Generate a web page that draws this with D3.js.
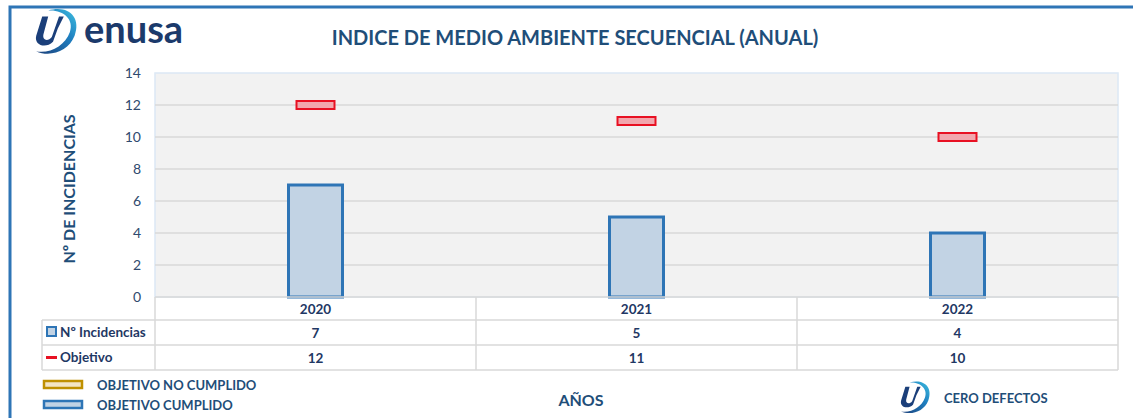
<!DOCTYPE html>
<html>
<head>
<meta charset="utf-8">
<script src="https://cdn.jsdelivr.net/npm/d3@7"></script>
<style>
  body { margin: 0; background: #fff; }
  svg { display: block; font-family: Lato, "Open Sans", sans-serif; }
</style>
</head>
<body>
<div id="chart"></div>
<script>
// chart data
var years = ["2020", "2021", "2022"];
var incidencias = [7, 5, 4];
var objetivo = [12, 11, 10];
var yTicks = [0, 2, 4, 6, 8, 10, 12, 14];

var width = 1133, height = 418;
var navy = "#1f4e79", textDark = "#1f3864", blue = "#2e75b6";

var svg = d3.select("#chart").append("svg")
    .attr("width", width)
    .attr("height", height);

// outer frame (top + left)
svg.append("path")
    .attr("d", "M10," + height + " L10,7 L" + width + ",7")
    .attr("fill", "none")
    .attr("stroke", blue)
    .attr("stroke-width", 3);

// scales
var x = d3.scaleBand().domain(years).range([155, 1118]).padding(0);
var y = d3.scaleLinear().domain([0, 14]).range([297, 73]);

// plot background
svg.append("rect")
    .attr("x", x.range()[0]).attr("y", y(14))
    .attr("width", x.range()[1] - x.range()[0]).attr("height", y(0) - y(14))
    .attr("fill", "#f2f2f2")
    .attr("stroke", "#dce8f5")
    .attr("stroke-width", 1.5);

// gridlines
svg.append("g").selectAll("line")
    .data(yTicks.slice(1, -1))
    .enter().append("line")
    .attr("x1", x.range()[0]).attr("x2", x.range()[1])
    .attr("y1", function(d) { return y(d); })
    .attr("y2", function(d) { return y(d); })
    .attr("stroke", "#d9d9d9")
    .attr("stroke-width", 1.5);

// y axis labels
var yAxis = d3.axisLeft(y).tickValues(yTicks).tickSize(0).tickPadding(14);
var yg = svg.append("g")
    .attr("transform", "translate(155,0)")
    .call(yAxis);
yg.select(".domain").remove();
yg.selectAll("text")
    .attr("font-size", 14)
    .attr("font-family", "Lato, sans-serif")
    .attr("fill", "#2f4a6e");

// bars
var barW = 54;
svg.append("g").selectAll("rect")
    .data(incidencias)
    .enter().append("rect")
    .attr("x", function(d, i) { return x(years[i]) + x.bandwidth() / 2 - barW / 2; })
    .attr("y", function(d) { return y(d); })
    .attr("width", barW)
    .attr("height", function(d) { return y(0) - y(d); })
    .attr("fill", "#c2d3e4")
    .attr("stroke", blue)
    .attr("stroke-width", 3);

// objetivo markers
var markW = 38, markH = 8;
svg.append("g").selectAll("rect")
    .data(objetivo)
    .enter().append("rect")
    .attr("x", function(d, i) { return x(years[i]) + x.bandwidth() / 2 - markW / 2; })
    .attr("y", function(d) { return y(d) - markH / 2; })
    .attr("width", markW)
    .attr("height", markH)
    .attr("fill", "#f2a7ae")
    .attr("stroke", "#e81123")
    .attr("stroke-width", 2);

// data table
var rowTop = [297, 320, 345, 370];
var tableLeft = 42;
var table = svg.append("g");

// horizontal lines
table.selectAll("line.h")
    .data(rowTop)
    .enter().append("line")
    .attr("class", "h")
    .attr("x1", function(d, i) { return i === 0 ? x.range()[0] : tableLeft; })
    .attr("x2", x.range()[1])
    .attr("y1", function(d) { return d; })
    .attr("y2", function(d) { return d; })
    .attr("stroke", "#d9d9d9")
    .attr("stroke-width", 1.5);

// vertical lines
var colEdges = years.map(function(d) { return x(d); }).concat([x.range()[1]]);
table.selectAll("line.v")
    .data(colEdges)
    .enter().append("line")
    .attr("class", "v")
    .attr("x1", function(d) { return d; })
    .attr("x2", function(d) { return d; })
    .attr("y1", rowTop[0])
    .attr("y2", rowTop[3])
    .attr("stroke", "#d9d9d9")
    .attr("stroke-width", 1.5);
table.append("line")
    .attr("x1", tableLeft).attr("x2", tableLeft)
    .attr("y1", rowTop[1]).attr("y2", rowTop[3])
    .attr("stroke", "#d9d9d9").attr("stroke-width", 1.5);

// table text
var rows = [years, incidencias, objetivo];
rows.forEach(function(row, r) {
    table.selectAll("text.r" + r)
        .data(row)
        .enter().append("text")
        .attr("x", function(d, i) { return x(years[i]) + x.bandwidth() / 2; })
        .attr("y", (rowTop[r] + rowTop[r + 1]) / 2 + 5)
        .attr("text-anchor", "middle")
        .attr("font-size", 13.5)
        .attr("font-weight", "bold")
        .attr("fill", textDark)
        .text(function(d) { return d; });
});

// row headers with keys
table.append("rect")
    .attr("x", 47).attr("y", 327).attr("width", 9).attr("height", 9)
    .attr("fill", "#c2d3e4").attr("stroke", blue).attr("stroke-width", 2);
table.append("text")
    .attr("x", 60).attr("y", 337)
    .attr("font-size", 13.5).attr("font-weight", "bold").attr("fill", textDark)
    .text("Nº Incidencias");
table.append("rect")
    .attr("x", 46).attr("y", 356).attr("width", 11).attr("height", 3)
    .attr("fill", "#e81123");
table.append("text")
    .attr("x", 60).attr("y", 362)
    .attr("font-size", 13.5).attr("font-weight", "bold").attr("fill", textDark)
    .text("Objetivo");

// title
svg.append("text")
    .attr("x", 575).attr("y", 45)
    .attr("text-anchor", "middle")
    .attr("font-size", 20).attr("font-weight", "bold").attr("fill", navy)
    .text("INDICE DE MEDIO AMBIENTE SECUENCIAL (ANUAL)");

// y axis title
svg.append("text")
    .attr("transform", "translate(75,189) rotate(-90)")
    .attr("text-anchor", "middle")
    .attr("font-size", 16).attr("font-weight", "bold").attr("fill", navy)
    .text("Nº DE INCIDENCIAS");

// x axis title
svg.append("text")
    .attr("x", 581).attr("y", 406)
    .attr("text-anchor", "middle")
    .attr("font-size", 16).attr("font-weight", "bold").attr("fill", navy)
    .text("AÑOS");

// bottom legend
var legendItems = [
    { label: "OBJETIVO NO CUMPLIDO", fill: "#f3e5c4", stroke: "#bf9000", y: 381 },
    { label: "OBJETIVO CUMPLIDO", fill: "#c2d3e4", stroke: blue, y: 401 }
];
var lg = svg.append("g");
lg.selectAll("rect")
    .data(legendItems)
    .enter().append("rect")
    .attr("x", 44).attr("y", function(d) { return d.y; })
    .attr("width", 38).attr("height", 7)
    .attr("fill", function(d) { return d.fill; })
    .attr("stroke", function(d) { return d.stroke; })
    .attr("stroke-width", 2.5);
lg.selectAll("text")
    .data(legendItems)
    .enter().append("text")
    .attr("x", 97).attr("y", function(d) { return d.y + 9; })
    .attr("font-size", 13).attr("font-weight", "bold").attr("fill", navy)
    .text(function(d) { return d.label; });

// logo mark (swoosh + U)
function drawMark(g, cx, cy, s) {
    var grad = "grad" + Math.round(cx);
    var defs = svg.append("defs");
    var lgd = defs.append("linearGradient").attr("id", grad)
        .attr("x1", "0").attr("y1", "1").attr("x2", "1").attr("y2", "0");
    lgd.append("stop").attr("offset", "0").attr("stop-color", "#1b3f7a");
    lgd.append("stop").attr("offset", "0.6").attr("stop-color", "#1f7fc0");
    lgd.append("stop").attr("offset", "1").attr("stop-color", "#3fc0e0");
    var m = g.append("g").attr("transform", "translate(" + cx + "," + cy + ") scale(" + s + ")");
    m.append("path")
        .attr("d", "M-4,-17 C12,-22 24,-12 18,4 C13,17 -2,22 -14,17 C-2,19 10,12 14,1 C18,-10 8,-18 -4,-17 Z")
        .attr("fill", "url(#" + grad + ")");
    m.append("path")
        .attr("d", "M-9,-12 L-14,4 C-16,12 -6,15 0,9 L4,-2 L9,-12 L5,-12 L-1,5 C-4,9 -9,8 -8,3 L-4,-12 Z")
        .attr("fill", "#1b3f7a");
}
drawMark(svg, 53, 31, 1.2);
svg.append("text")
    .attr("x", 84).attr("y", 43)
    .attr("font-size", 38).attr("font-weight", "bold").attr("fill", "#1b3a6b")
    .attr("font-family", "Lato, sans-serif")
    .text("enusa");

drawMark(svg, 913, 397, 0.85);
svg.append("text")
    .attr("x", 944).attr("y", 403)
    .attr("font-size", 13).attr("font-weight", "bold").attr("fill", navy)
    .text("CERO DEFECTOS");
</script>
</body>
</html>
